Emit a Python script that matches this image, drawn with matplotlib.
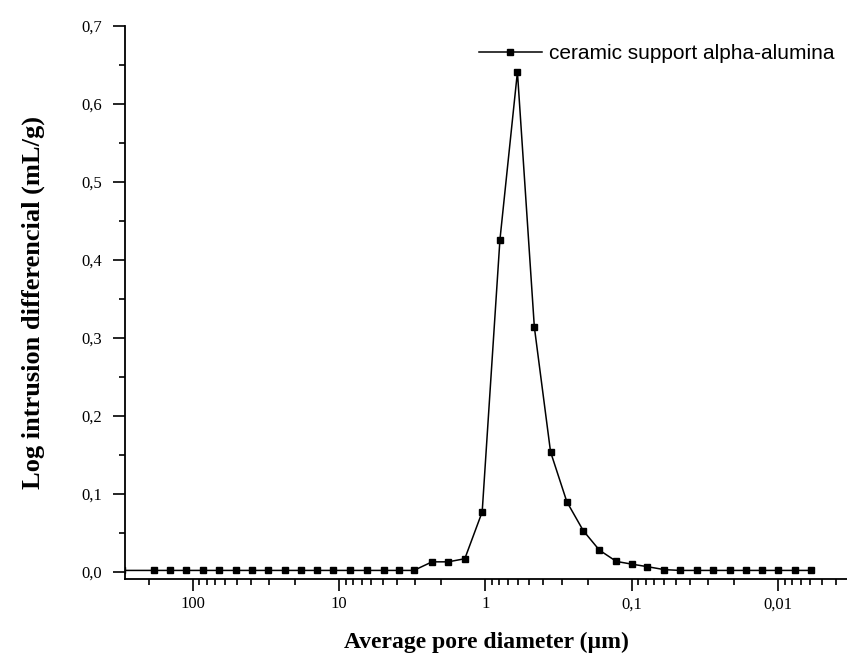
import matplotlib
matplotlib.use("Agg")
from matplotlib import pyplot as plt
from matplotlib import ticker

# pore diameter (µm) and log differential intrusion (mL/g)
diameter = [306, 183.6, 143.2, 110.9, 84.9, 65.9, 50.7, 39.5, 30.5, 23.4,
            18.3, 14.2, 10.9, 8.4, 6.47, 4.90, 3.88, 3.08, 2.31, 1.79,
            1.38, 1.05, 0.794, 0.603, 0.462, 0.358, 0.277, 0.214, 0.166, 0.127,
            0.0993, 0.078, 0.0597, 0.0465, 0.0358, 0.0277, 0.0214, 0.0166,
            0.0128, 0.00993, 0.00767, 0.00594]
intrusion = [0.002, 0.002, 0.002, 0.002, 0.002, 0.002, 0.002, 0.002, 0.002, 0.002,
             0.002, 0.002, 0.002, 0.002, 0.002, 0.002, 0.002, 0.002, 0.013, 0.013,
             0.017, 0.077, 0.426, 0.641, 0.314, 0.154, 0.090, 0.053, 0.028, 0.0135,
             0.010, 0.0068, 0.003, 0.002, 0.002, 0.002, 0.002, 0.002,
             0.002, 0.002, 0.002, 0.002]

x_ticks = [100, 10, 1, 0.1, 0.01]
x_labels = ["100", "10", "1", "0,1", "0,01"]
y_ticks = [0.0, 0.1, 0.2, 0.3, 0.4, 0.5, 0.6, 0.7]
y_labels = ["0,0", "0,1", "0,2", "0,3", "0,4", "0,5", "0,6", "0,7"]

serif = ["Liberation Serif", "DejaVu Serif"]

fig = plt.figure(figsize=(8.47, 6.63), dpi=100)
ax = fig.add_axes([0.1476, 0.1267, 0.8524, 0.8341])

ax.plot(diameter, intrusion, color="black", lw=1.1, marker="s", ms=4.2,
        label="ceramic support alpha-alumina")

ax.set_xscale("log")
ax.set_xlim(290, 0.00337)
ax.set_ylim(-0.009, 0.7)

ax.set_xticks(x_ticks)
ax.set_xticklabels(x_labels, fontfamily=serif, fontsize=12)
ax.xaxis.set_minor_locator(ticker.LogLocator(base=10, subs=range(2, 10), numticks=20))
ax.xaxis.set_minor_formatter(ticker.NullFormatter())

ax.set_yticks(y_ticks)
ax.set_yticklabels(y_labels, fontfamily=serif, fontsize=12)
ax.yaxis.set_minor_locator(ticker.MultipleLocator(0.05))

ax.tick_params(which="major", direction="out", length=8.5, width=1.2)
ax.tick_params(which="minor", direction="out", length=4.5, width=1.2)
ax.tick_params(axis="y", which="major", pad=8)
ax.tick_params(axis="x", which="major", pad=4)

for s in ["left", "bottom"]:
    ax.spines[s].set_linewidth(1.3)
ax.spines["right"].set_visible(False)
ax.spines["top"].set_visible(False)

ax.set_xlabel("Average pore diameter (µm)", fontfamily=serif, fontsize=17,
              fontweight="bold", labelpad=14)
ax.set_ylabel("Log intrusion differencial (mL/g)", fontfamily=serif, fontsize=19,
              fontweight="bold", labelpad=26)

ax.legend(loc="upper right", bbox_to_anchor=(1.0, 0.99), frameon=False,
          handlelength=3.0, handletextpad=0.35, borderaxespad=0.2,
          prop={"family": "Liberation Sans", "size": 15})

fig.savefig("out.png", dpi=100)
